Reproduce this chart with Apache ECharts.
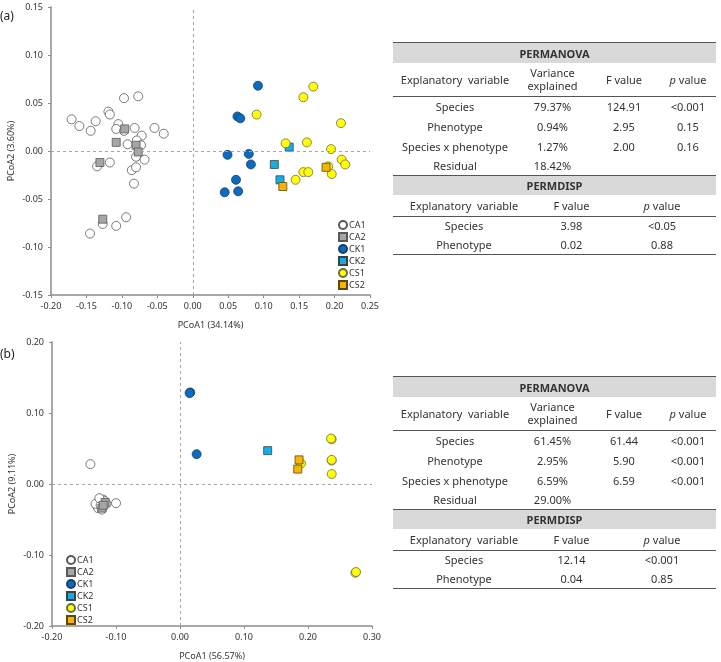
<!DOCTYPE html>
<html lang="en">
<head>
<meta charset="UTF-8">
<title>PCoA</title>
<style>
body{margin:0;background:#fff;}
#main{position:absolute;left:0;top:0;width:721px;height:662px;}
.tb{position:absolute;left:393px;width:323px;border-collapse:collapse;table-layout:fixed;font-family:"Noto Sans",sans-serif;font-size:11px;color:#333;}
.tb td{padding:0;text-align:center;line-height:13px;}
.tb tr.hd td{background:#d9d9d9;font-weight:bold;border-top:1.5px solid #555;height:20px;}
.tb tr.ch td{border-bottom:1px solid #555;}
.tb tr.last td{border-bottom:1.5px solid #555;}
.lab{position:absolute;left:0;font-family:"Noto Sans",sans-serif;font-size:12px;color:#222;}
</style>
</head>
<body>
<div id="main"></div>
<div class="lab" style="top:7px">(a)</div>
<div class="lab" style="top:345px">(b)</div>
<script src="https://cdn.jsdelivr.net/npm/echarts@6/dist/echarts.min.js"></script>
<script>
// (a) points
var a_CA1 = [[-0.171,0.033],[-0.160,0.026],[-0.144,0.021],[-0.137,0.031],[-0.119,0.041],[-0.117,0.038],
  [-0.097,0.055],[-0.077,0.057],[-0.105,0.028],[-0.108,0.023],[-0.097,0.021],[-0.082,0.024],[-0.054,0.024],
  [-0.041,0.018],[-0.072,0.016],[-0.092,0.007],[-0.079,0.011],[-0.073,0.006],[-0.080,-0.006],[-0.068,-0.009],
  [-0.117,-0.012],[-0.135,-0.016],[-0.086,-0.020],[-0.080,-0.017],[-0.083,-0.034],[-0.094,-0.069],
  [-0.127,-0.076],[-0.108,-0.078],[-0.145,-0.086]];
var a_CA2 = [[-0.096,0.023],[-0.108,0.009],[-0.080,0.006],[-0.077,-0.001],[-0.131,-0.012],[-0.127,-0.071]];
var a_CK1 = [[0.092,0.068],[0.063,0.036],[0.067,0.034],[0.049,-0.004],[0.079,-0.003],[0.082,-0.014],
  [0.061,-0.030],[0.045,-0.043],[0.064,-0.042]];
var a_CK2 = [[0.136,0.004],[0.115,-0.014],[0.123,-0.030]];
var a_CS1 = [[0.170,0.067],[0.156,0.056],[0.090,0.038],[0.209,0.029],[0.131,0.008],[0.161,0.009],
  [0.195,0.002],[0.210,-0.009],[0.215,-0.014],[0.191,-0.016],[0.196,-0.024],[0.156,-0.022],[0.163,-0.022],
  [0.145,-0.030]];
var a_CS2 = [[0.127,-0.037],[0.188,-0.017]];

// (b) points
var b_CA1 = [[-0.140,0.028],[-0.130,-0.030],[-0.125,-0.025],[-0.120,-0.022],[-0.128,-0.034],[-0.122,-0.036],
  [-0.115,-0.028],[-0.118,-0.024],[-0.132,-0.028],[-0.124,-0.030],[-0.100,-0.027],[-0.126,-0.020]];
var b_CA2 = [[-0.122,-0.034],[-0.117,-0.026],[-0.120,-0.030]];
var b_CK1 = [[0.016,0.129],[0.015,0.128],[0.026,0.042]];
var b_CK2 = [[0.137,0.047]];
var b_CS1 = [[0.189,0.029],[0.237,0.063],[0.236,0.064],[0.237,0.033],[0.237,0.034],[0.237,0.014],
  [0.274,-0.125],[0.275,-0.124]];
var b_CS2 = [[0.186,0.034],[0.184,0.021]];

var groups = ['CA1','CA2','CK1','CK2','CS1','CS2'];
var symbols = ['circle','rect','circle','rect','circle','rect'];
var fills = ['#ffffff','#a6a6a6','#0a6bbf','#12aeea','#ffff00','#f8b500'];
var borders = ['#595959','#595959','#1d3f66','#404040','#6b6b4a','#5a4a10'];

// table contents
var a_permanova = [['Species','79.37%','124.91','<0.001'],['Phenotype','0.94%','2.95','0.15'],
  ['Species x phenotype','1.27%','2.00','0.16'],['Residual','18.42%','','']];
var a_permdisp = [['Species','3.98','<0.05'],['Phenotype','0.02','0.88']];
var b_permanova = [['Species','61.45%','61.44','<0.001'],['Phenotype','2.95%','5.90','<0.001'],
  ['Species x phenotype','6.59%','6.59','<0.001'],['Residual','29.00%','','']];
var b_permdisp = [['Species','12.14','<0.001'],['Phenotype','0.04','0.85']];

function esc(s){return s.replace(/</g,'&lt;');}
function tables(top, anova, disp){
  var h = '<table class="tb" style="top:'+top+'px"><colgroup><col style="width:124px"><col style="width:71px"><col style="width:72px"><col style="width:56px"></colgroup>';
  h += '<tr class="hd"><td colspan="4" style="height:20px">PERMANOVA</td></tr>';
  h += '<tr class="ch" style="height:33px"><td>Explanatory&nbsp; variable</td><td>Variance<br>explained</td><td>F value</td><td><i>p</i> value</td></tr>';
  anova.forEach(function(r,i){
    h += '<tr style="height:'+(i==3?19:20)+'px">'+r.map(function(c){return '<td>'+esc(c)+'</td>';}).join('')+'</tr>';
  });
  h += '</table>';
  h += '<table class="tb" style="top:'+(top+133)+'px"><colgroup><col style="width:142px"><col style="width:73px"><col style="width:108px"></colgroup>';
  h += '<tr class="hd"><td colspan="3" style="height:19px">PERMDISP</td></tr>';
  h += '<tr class="ch" style="height:21px"><td>Explanatory&nbsp; variable</td><td>F value</td><td><i>p</i> value</td></tr>';
  disp.forEach(function(r,i){
    h += '<tr style="height:19px"'+(i==1?' class="last"':'')+'>'+r.map(function(c){return '<td>'+esc(c)+'</td>';}).join('')+'</tr>';
  });
  h += '</table>';
  document.body.insertAdjacentHTML('beforeend', h);
}
tables(42, a_permanova, a_permdisp);
tables(376, b_permanova, b_permdisp);

var myChart = echarts.init(document.getElementById('main'));
var font = '"Noto Sans", sans-serif';
var dashed = {
  silent:true, symbol:'none', label:{show:false},
  lineStyle:{color:'#a6a6a6', type:[3,3], width:1},
  emphasis:{disabled:true},
  data:[{xAxis:0},{yAxis:0}]
};

function makeSeries(sets, idx){
  return sets.map(function(d,i){
    var s = {
      name: groups[i], type:'scatter', xAxisIndex:idx, yAxisIndex:idx,
      symbol: symbols[i], symbolSize: symbols[i]=='circle' ? 9 : 8,
      itemStyle:{color:fills[i], borderColor:borders[i], borderWidth:0.8, opacity:1},
      data:d
    };
    if(i==0) s.markLine = dashed;
    return s;
  });
}

function xAx(idx, min, max, step, name){
  return {
    gridIndex:idx, type:'value', min:min, max:max, interval:step,
    name:name, nameLocation:'middle', nameGap:26,
    nameTextStyle:{fontSize:9, color:'#333', fontFamily:font},
    axisLine:{show:true, onZero:false, lineStyle:{color:'#8c8c8c', width:1.5}},
    axisTick:{show:true, length:3, lineStyle:{color:'#8c8c8c'}},
    axisLabel:{fontSize:9, color:'#333', fontFamily:font, margin:7, formatter:function(v){return v.toFixed(2);}},
    splitLine:{show:false}
  };
}
function yAx(idx, min, max, step, name){
  return {
    gridIndex:idx, type:'value', min:min, max:max, interval:step,
    name:name, nameLocation:'middle', nameGap:35,
    nameTextStyle:{fontSize:9, color:'#333', fontFamily:font},
    axisLine:{show:true, onZero:false, lineStyle:{color:'#8c8c8c', width:1.5}},
    axisTick:{show:true, length:3, lineStyle:{color:'#8c8c8c'}},
    axisLabel:{fontSize:9, color:'#333', fontFamily:font, margin:8, formatter:function(v){return v.toFixed(2);}},
    splitLine:{show:false}
  };
}

function legendAt(left, top){
  return {
    orient:'vertical', left:left, top:top, itemWidth:8, itemHeight:8, itemGap:2,
    textStyle:{fontSize:9, lineHeight:10, color:'#333', fontFamily:font, padding:[0,0,0,-3]},
    data: groups.map(function(g,i){return {name:g, icon:symbols[i]=='circle'?'circle':'rect'};})
  };
}

var option = {
  animation:false,
  grid:[
    {left:51, top:7, width:319, height:288},
    {left:52, top:342, width:320, height:288}
  ],
  xAxis:[xAx(0,-0.2,0.25,0.05,'PCoA1 (34.14%)'), xAx(1,-0.2,0.3,0.1,'PCoA1 (56.57%)')],
  yAxis:[yAx(0,-0.15,0.15,0.05,'PCoA2 (3.60%)'), yAx(1,-0.2,0.2,0.1,'PCoA2 (9.11%)')],
  legend:[legendAt(333,215), legendAt(61,550)],
  series: makeSeries([a_CA1,a_CA2,a_CK1,a_CK2,a_CS1,a_CS2],0)
    .concat(makeSeries([b_CA1,b_CA2,b_CK1,b_CK2,b_CS1,b_CS2],1))
};
myChart.setOption(option);
</script>
</body>
</html>
